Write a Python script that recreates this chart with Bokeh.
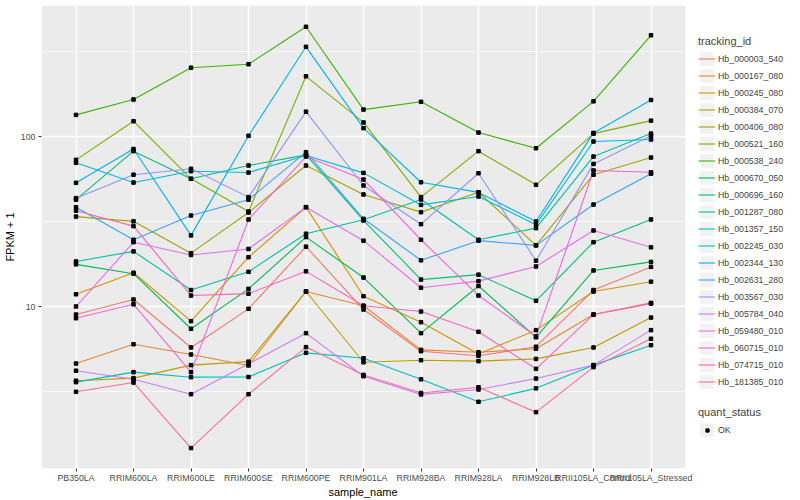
from bokeh.plotting import figure
from bokeh.models import (Range1d, FixedTicker, NumeralTickFormatter, Legend, LegendItem,
                          ColumnDataSource, BoxAnnotation, Title)
from bokeh.embed import file_html
from bokeh.resources import INLINE

samples = ["PB350LA", "RRIM600LA", "RRIM600LE", "RRIM600SE", "RRIM600PE",
           "RRIM901LA", "RRIM928BA", "RRIM928LA", "RRIM928LB",
           "RRII105LA_Control", "RRII105LA_Stressed"]

tracking_ids = ["Hb_000003_540", "Hb_000167_080", "Hb_000245_080", "Hb_000384_070",
                "Hb_000406_080", "Hb_000521_160", "Hb_000538_240", "Hb_000670_050",
                "Hb_000696_160", "Hb_001287_080", "Hb_001357_150", "Hb_002245_030",
                "Hb_002344_130", "Hb_002631_280", "Hb_003567_030", "Hb_005784_040",
                "Hb_059480_010", "Hb_060715_010", "Hb_074715_010", "Hb_181385_010"]

colors = ["#F8766D", "#EA8331", "#D89000", "#C09B00", "#A3A500", "#7CAE00",
          "#39B600", "#00BB4E", "#00BF7D", "#00C1A3", "#00BFC4", "#00BAE0",
          "#00B0F6", "#35A2FF", "#9590FF", "#C77CFF", "#E76BF3", "#FA62DB",
          "#FF62BC", "#FF6C91"]

# FPKM + 1 per sample (order of `samples`)
hb_000003_540 = [8.97, 11.0, 5.74, 9.69, 22.5, 9.60, 5.46, 5.13, 5.80, 12.5, 17.1]
hb_000167_080 = [4.62, 6.00, 5.22, 4.50, 12.25, 10.1, 5.56, 5.38, 5.64, 8.97, 10.5]
hb_000245_080 = [11.8, 15.8, 8.20, 19.5, 38.4, 11.5, 8.09, 5.26, 7.26, 12.25, 14.0]
hb_000384_070 = [3.66, 3.79, 4.52, 4.74, 12.25, 4.70, 4.83, 4.77, 4.92, 5.74, 8.61]
hb_000406_080 = [33.8, 31.7, 20.6, 35.7, 67.5, 45.6, 35.9, 47.0, 22.9, 59.6, 75.2]
hb_000521_160 = [72.9, 123.0, 56.4, 36.2, 226.0, 121.0, 44.0, 82.0, 52.0, 104.0, 124.0]
hb_000538_240 = [134.0, 165.0, 254.0, 266.0, 442.0, 144.0, 160.0, 105.5, 85.3, 161.0, 394.0]
hb_000670_050 = [17.7, 15.6, 7.40, 12.7, 25.6, 14.8, 6.97, 13.2, 6.59, 16.3, 18.3]
hb_000696_160 = [42.5, 82.0, 56.4, 67.5, 78.0, 32.1, 14.4, 15.4, 10.8, 23.9, 32.5]
hb_001287_080 = [18.4, 21.1, 12.5, 16.0, 26.8, 32.4, 42.6, 24.7, 28.9, 76.2, 104.0]
hb_001357_150 = [3.59, 4.11, 3.84, 3.85, 5.34, 4.96, 3.73, 2.75, 3.30, 4.52, 5.92]
hb_002245_030 = [70.0, 53.6, 62.5, 61.4, 77.3, 61.1, 39.6, 44.4, 30.3, 93.5, 96.0]
hb_002344_130 = [53.4, 84.4, 26.2, 101.0, 337.0, 112.0, 53.8, 46.9, 31.6, 105.0, 164.0]
hb_002631_280 = [38.4, 24.7, 34.3, 42.5, 80.9, 32.8, 18.7, 24.4, 22.9, 39.8, 60.4]
hb_003567_030 = [43.4, 59.6, 64.6, 44.0, 140.0, 51.5, 30.5, 60.8, 18.6, 69.0, 101.0]
hb_005784_040 = [4.19, 3.73, 3.05, 4.60, 6.97, 3.89, 3.04, 3.25, 3.77, 4.52, 7.26]
hb_059480_010 = [10.0, 23.9, 20.1, 21.8, 38.4, 24.4, 12.9, 14.1, 17.2, 28.0, 22.3]
hb_060715_010 = [8.53, 10.3, 4.11, 32.5, 76.2, 55.8, 24.7, 11.6, 6.67, 63.1, 61.6]
hb_074715_010 = [36.6, 29.7, 11.6, 11.9, 16.1, 10.1, 9.34, 7.10, 4.30, 8.97, 10.4]
hb_181385_010 = [3.15, 3.57, 1.47, 3.05, 5.77, 3.96, 3.10, 3.35, 2.39, 4.40, 6.46]

series = [hb_000003_540, hb_000167_080, hb_000245_080, hb_000384_070, hb_000406_080,
          hb_000521_160, hb_000538_240, hb_000670_050, hb_000696_160, hb_001287_080,
          hb_001357_150, hb_002245_030, hb_002344_130, hb_002631_280, hb_003567_030,
          hb_005784_040, hb_059480_010, hb_060715_010, hb_074715_010, hb_181385_010]

y_ticks = [10, 100]
y_minor = [3.1623, 31.623, 316.23]

FONT = "Liberation Sans"

# sample positions on the discrete axis (1..n), as ggplot does
x_pos = list(range(1, len(samples) + 1))
x_lo, x_hi = 0.4, len(samples) + 0.6          # ggplot's discrete expansion
x_end = x_lo + 752 / (644 / (x_hi - x_lo))     # extra room on the right for the legend

p = figure(frame_width=752, frame_height=463,
           x_range=Range1d(x_lo, x_end),
           y_range=Range1d(1.1146, 589.7), y_axis_type="log",
           output_backend="svg", toolbar_location=None,
           min_border_left=40, min_border_right=0, min_border_top=5,
           min_border_bottom=24,
           y_axis_label="FPKM + 1")
p.background_fill_color = "white"
p.border_fill_color = "white"
p.outline_line_color = None

# grey panel only over the data area
p.add_layout(BoxAnnotation(left=x_lo, right=x_hi, fill_color="#EBEBEB", fill_alpha=1,
                           line_color=None, level="image"))

# grids
p.xgrid.ticker = FixedTicker(ticks=x_pos)
p.xgrid.grid_line_color = "white"
p.xgrid.grid_line_width = 1.4
p.ygrid.ticker = FixedTicker(ticks=y_ticks, minor_ticks=y_minor)
p.ygrid.grid_line_color = "white"
p.ygrid.grid_line_width = 1.4
p.ygrid.minor_grid_line_color = "white"
p.ygrid.minor_grid_line_width = 0.7

# axes
p.xaxis.ticker = FixedTicker(ticks=x_pos)
p.xaxis.major_label_overrides = {i: s for i, s in zip(x_pos, samples)}
p.yaxis.ticker = FixedTicker(ticks=y_ticks, minor_ticks=y_minor)
p.yaxis.formatter = NumeralTickFormatter(format="0")
for ax in (p.xaxis[0], p.yaxis[0]):
    ax.axis_line_color = None
    ax.major_tick_line_color = "#333333"
    ax.major_tick_in = 0
    ax.major_tick_out = 3
    ax.minor_tick_line_color = None
    ax.major_label_text_color = "#4D4D4D"
    ax.major_label_text_font_size = "8.8px"
    ax.major_label_text_font = FONT
    ax.axis_label_text_font_size = "11px"
    ax.axis_label_text_font_style = "normal"
    ax.axis_label_text_font = FONT
    ax.axis_label_text_color = "black"
p.xaxis.major_label_standoff = 1
p.yaxis.major_label_standoff = 2
p.yaxis.axis_label_standoff = 2

# x axis title centred under the grey panel
p.add_layout(Title(text="sample_name", align="left", offset=287, standoff=0,
                   vertical_align="top",
                   text_font_size="11px", text_font_style="normal", text_font=FONT,
                   text_color="black"), "below")

# legend key background / key marker (their single point lies outside the view)
off_x, off_y = [-50], [2]
bg = p.rect(x=off_x, y=off_y, width=0.01, height=0.01, fill_color="#F2F2F2",
            line_color=None)
dummy_pt = p.scatter(x=off_x, y=off_y, marker="square", color="black")

items = []
for tid, col, vals in zip(tracking_ids, colors, series):
    src = ColumnDataSource(dict(x=x_pos, y=vals))
    r = p.line(x="x", y="y", source=src, line_color=col, line_width=1.1)
    items.append(LegendItem(label=tid, renderers=[bg, r]))

for vals in series:
    src = ColumnDataSource(dict(x=x_pos, y=vals))
    p.scatter(x="x", y="y", source=src, marker="square", size=3.5, color="black")

common = dict(padding=0, margin=0, border_line_color=None, background_fill_alpha=0,
              label_text_font_size="8.8px", label_text_font=FONT,
              title_text_font_size="11px", title_text_font=FONT,
              title_text_font_style="normal", title_standoff=3,
              label_standoff=3)

leg = Legend(items=items, title="tracking_id", location=(657, 78),
             glyph_width=17, glyph_height=17, label_height=17, spacing=0, **common)
p.add_layout(leg)

leg_q = Legend(items=[LegendItem(label="OK", renderers=[bg])], title="quant_status",
               location=(657, 30), glyph_width=17, glyph_height=17, label_height=17,
               spacing=0, **common)
p.add_layout(leg_q)

leg_q2 = Legend(items=[LegendItem(label=" ", renderers=[dummy_pt])],
                location=(661.5, 34.5), glyph_width=8, glyph_height=8, label_height=8,
                padding=0, margin=0, border_line_color=None, background_fill_alpha=0,
                label_text_font_size="1px", label_standoff=0)
p.add_layout(leg_q2)

open("out.html", "w").write(file_html(p, INLINE))
